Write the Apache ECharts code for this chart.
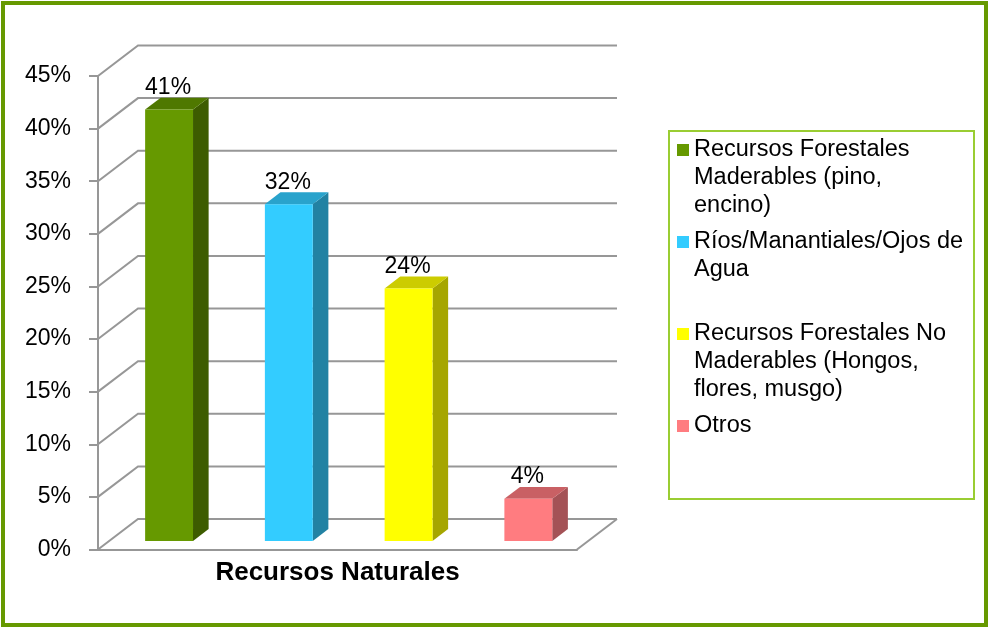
<!DOCTYPE html>
<html>
<head>
<meta charset="utf-8">
<script src="https://cdn.jsdelivr.net/npm/echarts@6/dist/echarts.min.js"></script>
<style>
  html, body { margin: 0; padding: 0; background: #ffffff; }
  #chart { width: 988px; height: 627px; }
</style>
</head>
<body>
<div id="chart"></div>
<script>
// ---- data ----
const categories = ['Recursos Naturales'];
const seriesNames = [
  'Recursos Forestales\nMaderables (pino,\nencino)',
  'Ríos/Manantiales/Ojos de\nAgua',
  'Recursos Forestales No\nMaderables (Hongos,\nflores, musgo)',
  'Otros'
];
const seriesValues = [41, 32, 24, 4];
const yTicks = [0, 5, 10, 15, 20, 25, 30, 35, 40, 45];
const yMin = 0, yMax = 45, yStep = 5;

// ---- face colours for the 3D boxes ----
const frontColors = ['#669900', '#33ccff', '#ffff00', '#ff7c80'];
const topColors   = ['#4f7800', '#29a3cc', '#cccc00', '#c96064'];
const sideColors  = ['#3d5c00', '#2282a3', '#a6a600', '#a45256'];

const FONT = "'Liberation Sans', Arial, sans-serif";
const GRID_COLOR = '#979797';

// perspective offset of the back wall relative to the front plane
const DEPTH_X = 40, DEPTH_Y = -30.5;
// bars occupy this slice of the floor depth (0 = front edge, 1 = back wall)
const BAR_FRONT = 0.28, BAR_BACK = 0.67;
const BAR_RATIO = 0.4; // bar width as a share of each series slot

// back-wall gridlines with the diagonal running back from the value axis
function renderWall(params, api) {
  const cs = params.coordSys;
  const v = api.value(1);
  const y = api.coord([0, v])[1];
  const left = cs.x, right = cs.x + cs.width;
  const lineStyle = { stroke: GRID_COLOR, lineWidth: 2, fill: null };
  const children = [{
    type: 'polyline',
    shape: { points: [[left, y], [left + DEPTH_X, y + DEPTH_Y], [right + DEPTH_X, y + DEPTH_Y]] },
    style: lineStyle
  }];
  if (v === yMin) {
    children.push({
      type: 'line',
      shape: { x1: right, y1: y, x2: right + DEPTH_X, y2: y + DEPTH_Y },
      style: lineStyle
    });
  }
  return { type: 'group', children };
}

// one 3D box per series, placed in its own slot inside the category band
function makeBoxRenderer(idx) {
  return function (params, api) {
    const v = api.value(1);
    const base = api.coord([api.value(0), yMin]);
    const top = api.coord([api.value(0), v]);
    const band = api.size([1, 0])[0];
    const slot = band / seriesValues.length;
    const half = slot * BAR_RATIO / 2;
    const ox = BAR_FRONT * DEPTH_X, oy = BAR_FRONT * DEPTH_Y;
    const dx = (BAR_BACK - BAR_FRONT) * DEPTH_X, dy = (BAR_BACK - BAR_FRONT) * DEPTH_Y;
    const cx = base[0] + (idx - (seriesValues.length - 1) / 2) * slot + ox;
    const xl = cx - half, xr = cx + half;
    const yb = base[1] + oy, yt = top[1] + oy;
    return {
      type: 'group',
      children: [
        {
          type: 'polygon',
          shape: { points: [[xr, yt], [xr + dx, yt + dy], [xr + dx, yb + dy], [xr, yb]] },
          style: { fill: sideColors[idx] }
        },
        {
          type: 'polygon',
          shape: { points: [[xl, yt], [xr, yt], [xr + dx, yt + dy], [xl + dx, yt + dy]] },
          style: { fill: topColors[idx] }
        },
        {
          type: 'rect',
          shape: { x: xl, y: yt, width: xr - xl, height: yb - yt },
          style: { fill: frontColors[idx] }
        },
        {
          type: 'text',
          style: {
            text: v + '%',
            x: cx - 1,
            y: yt + dy - 10,
            align: 'center',
            verticalAlign: 'middle',
            fontFamily: FONT,
            fontSize: 23,
            fill: '#000000'
          }
        }
      ]
    };
  };
}

// legend text: blank lines above a multi-line name keep the swatch level
// with its first line (the swatch is centred on the text block)
const LINE_H = 28;
function legendText(name) {
  const lines = name.split('\n').length;
  if (lines === 1) return '\n' + name + '\n';
  return '\n'.repeat(lines - 1) + name;
}

const boxSeries = seriesNames.map(function (name, i) {
  return {
    type: 'custom',
    name: name,
    coordinateSystem: 'cartesian2d',
    itemStyle: { color: frontColors[i] },
    encode: { x: 0, y: 1 },
    data: [[0, seriesValues[i]]],
    renderItem: makeBoxRenderer(i),
    z: 3
  };
});

const chart = echarts.init(document.getElementById('chart'), null, { renderer: 'canvas' });
chart.setOption({
  animation: false,
  backgroundColor: '#ffffff',
  textStyle: { fontFamily: FONT },
  grid: { left: 98, right: 411, top: 76, bottom: 77.5, containLabel: false },
  xAxis: {
    type: 'category',
    data: categories,
    axisLine: { show: true, lineStyle: { color: GRID_COLOR, width: 2 } },
    axisTick: { show: false },
    axisLabel: { margin: 10, fontFamily: FONT, fontSize: 26, fontWeight: 'bold', color: '#000000' },
    splitLine: { show: false }
  },
  yAxis: {
    type: 'value',
    min: yMin,
    max: yMax,
    interval: yStep,
    axisLine: { show: true, lineStyle: { color: GRID_COLOR, width: 2 } },
    axisTick: { show: true, length: 9, lineStyle: { color: GRID_COLOR, width: 2 } },
    axisLabel: { margin: 27, fontFamily: FONT, fontSize: 23, color: '#000000', formatter: '{value}%' },
    splitLine: { show: false }
  },
  legend: {
    orient: 'vertical',
    left: 677,
    top: 80,
    padding: 0,
    itemWidth: 12,
    itemHeight: 12,
    itemGap: -20,
    icon: 'rect',
    selectedMode: false,
    formatter: legendText,
    textStyle: { fontFamily: FONT, fontSize: 23.5, lineHeight: LINE_H, color: '#000000' },
    data: seriesNames
  },
  graphic: [
    {
      type: 'rect',
      shape: { x: 3, y: 3, width: 983, height: 622 },
      style: { fill: 'none', stroke: '#669900', lineWidth: 4 },
      silent: true
    },
    {
      type: 'rect',
      shape: { x: 669, y: 131, width: 305, height: 368 },
      style: { fill: 'none', stroke: '#9acd32', lineWidth: 2 },
      silent: true
    }
  ],
  series: [{
    type: 'custom',
    name: 'walls',
    coordinateSystem: 'cartesian2d',
    encode: { x: 0, y: 1 },
    data: yTicks.map(function (v) { return [0, v]; }),
    renderItem: renderWall,
    silent: true,
    z: 1
  }].concat(boxSeries)
});
</script>
</body>
</html>
